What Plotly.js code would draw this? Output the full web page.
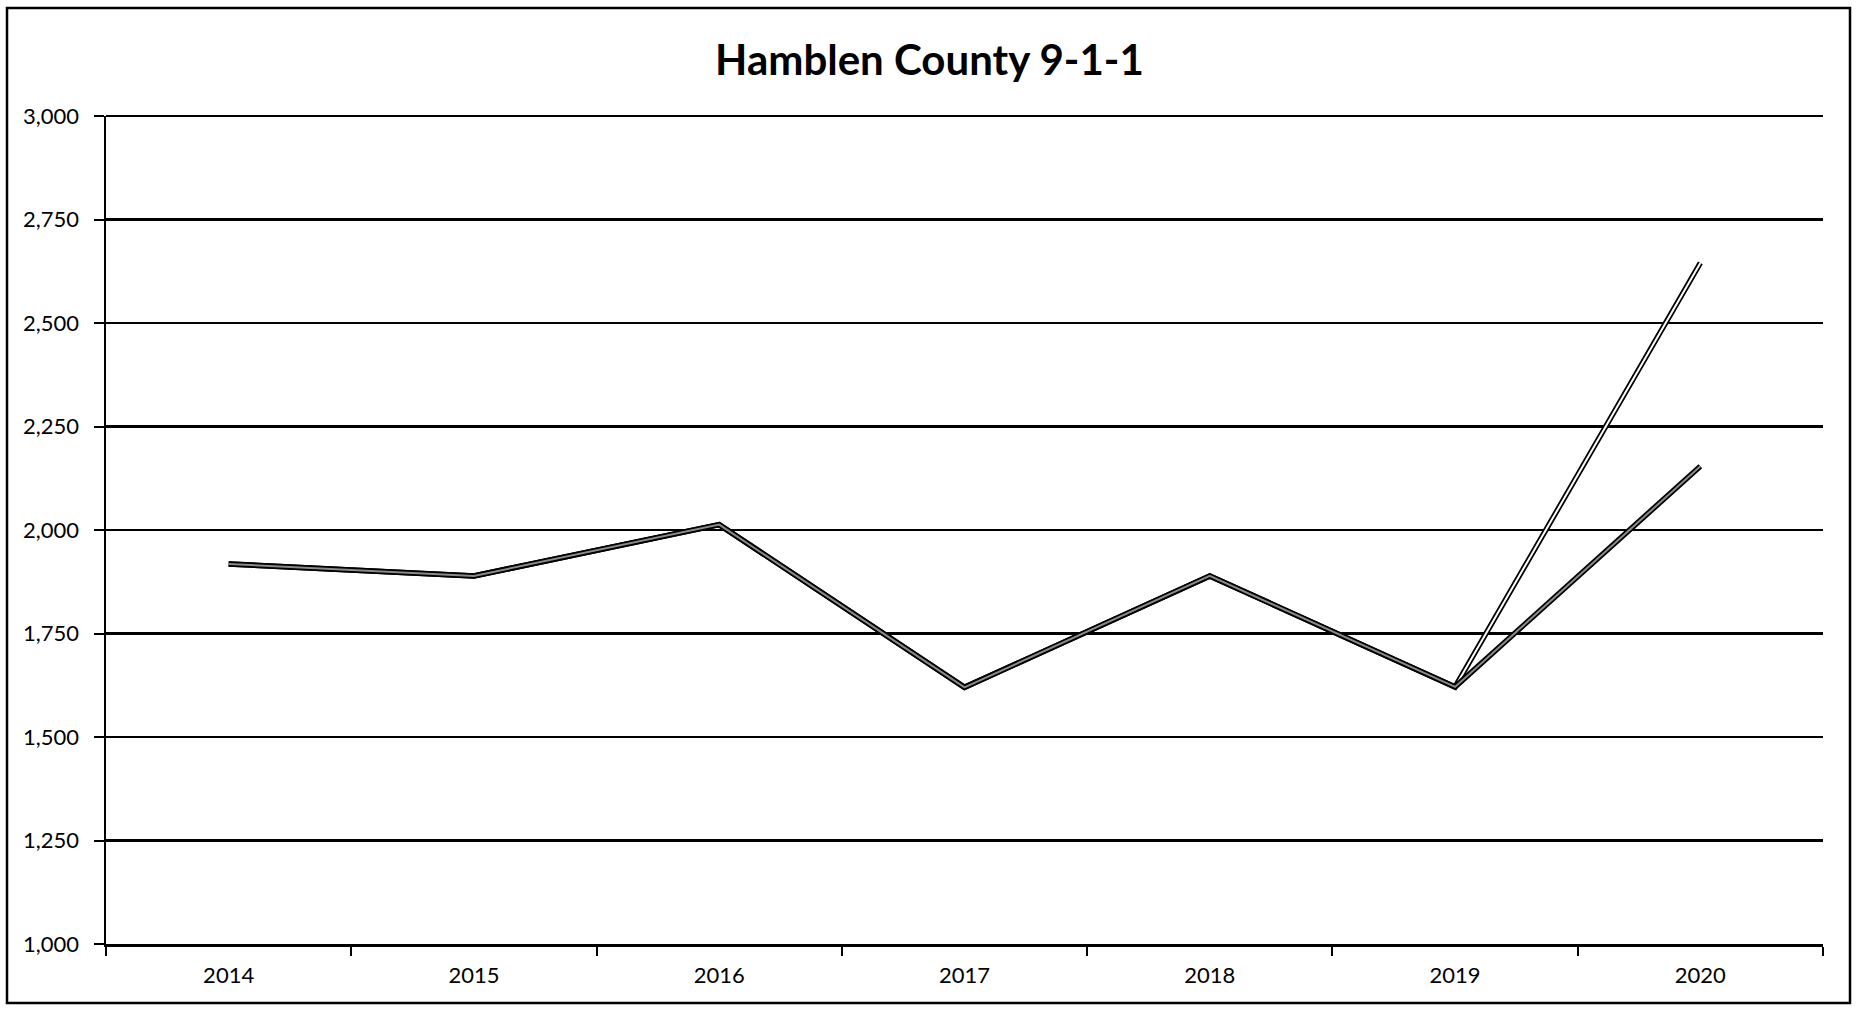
<!DOCTYPE html>
<html>
<head>
<meta charset="utf-8">
<script src="https://cdn.plot.ly/plotly-3.0.1.min.js"></script>
<style>html,body{margin:0;padding:0;background:#fff;}#chart{width:1859px;height:1014px;}</style>
</head>
<body>
<div id="chart"></div>
<script>
const years = ["2014", "2015", "2016", "2017", "2018", "2019", "2020"];
const seriesA = [1918, 1889, 2013, 1620, 1889, 1621, 2645];
const seriesB = [1918, 1889, 2013, 1620, 1889, 1621, 2154];
const yTickVals = [1000, 1250, 1500, 1750, 2000, 2250, 2500, 2750, 3000];
const titleText = "Hamblen County 9-1-1";

const FONT = "Lato, 'Open Sans', 'Liberation Sans', sans-serif";

function lineTrace(y, color, width) {
  return {
    type: "scatter", mode: "lines", x: years, y: y,
    line: {color: color, width: width}, hoverinfo: "skip", showlegend: false
  };
}

const traces = [
  lineTrace(seriesA, "#000", 5.5),
  lineTrace(seriesA, "#fff", 2),
  lineTrace(seriesB, "#000", 5.5),
  lineTrace(seriesB, "#8a8a8a", 2)
];

const L = 106, R = 1823, T = 116, B = 944, W = 1859, H = 1014;
const pw = R - L, ph = B - T;
const yMin = yTickVals[0], yMax = yTickVals[yTickVals.length - 1];

const layout = {
  width: W, height: H,
  margin: {l: L, r: W - R, t: T, b: H - B, pad: 0},
  paper_bgcolor: "#fff", plot_bgcolor: "#fff",
  showlegend: false, hovermode: false,
  title: {
    text: "<b>" + titleText + "</b>",
    font: {family: FONT, size: 42, color: "#000"},
    x: 0.5, xref: "container", xanchor: "center",
    y: 1 - 60 / H, yref: "container", yanchor: "middle"
  },
  xaxis: {
    type: "category", categoryorder: "array", categoryarray: years,
    range: [-0.5, years.length - 0.5],
    tickson: "boundaries", ticks: "outside", ticklen: 9, tickwidth: 2, tickcolor: "#000",
    showline: true, linecolor: "#000", linewidth: 2.5,
    showgrid: false, zeroline: false,
    tickfont: {family: FONT, size: 22, color: "#000"},
    ticklabelstandoff: 10, fixedrange: true
  },
  yaxis: {
    range: [yMin, yMax], tickvals: yTickVals, tickformat: ",",
    ticks: "outside", ticklen: 10, tickwidth: 2, tickcolor: "#000",
    showline: true, linecolor: "#000", linewidth: 2.5,
    showgrid: true, gridcolor: "#000", gridwidth: 2.2, zeroline: false,
    tickfont: {family: FONT, size: 22, color: "#000"},
    ticklabelstandoff: 10, fixedrange: true
  },
  shapes: [{
    type: "rect", xref: "paper", yref: "paper",
    x0: (7 - L) / pw, x1: (1850 - L) / pw,
    y0: (B - 1003) / ph, y1: (B - 8) / ph,
    line: {color: "#000", width: 2.5}, fillcolor: "rgba(0,0,0,0)", layer: "below"
  }, {
    type: "line", xref: "paper", yref: "paper",
    x0: 0, x1: 1, y0: 1, y1: 1,
    line: {color: "#000", width: 2.2}, layer: "below"
  }]
};

Plotly.newPlot("chart", traces, layout, {displayModeBar: false, staticPlot: true});
</script>
</body>
</html>
